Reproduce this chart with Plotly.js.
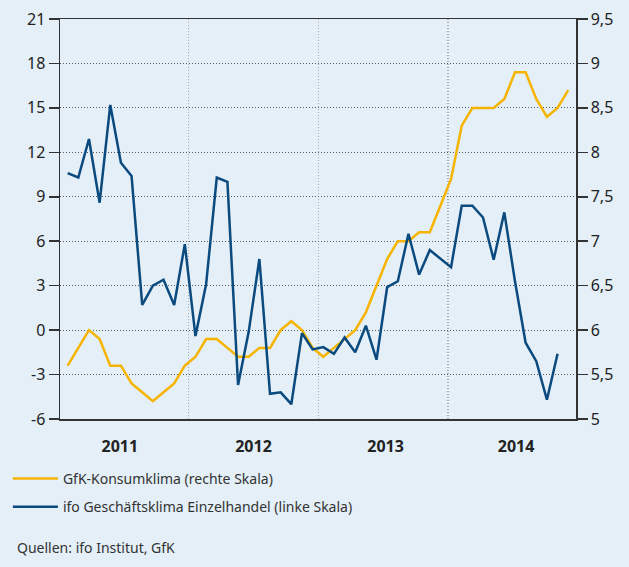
<!DOCTYPE html>
<html>
<head>
<meta charset="utf-8">
<script src="https://cdn.plot.ly/plotly-3.0.1.min.js"></script>
<style>
html,body{margin:0;padding:0;background:#e4eff7;}
#chart{width:629px;height:567px;}
</style>
</head>
<body>
<div id="chart"></div>
<script>
// Monthly observations, Jan 2011 - Dec 2014
const months = [
  '2011-01','2011-02','2011-03','2011-04','2011-05','2011-06','2011-07','2011-08','2011-09','2011-10','2011-11','2011-12',
  '2012-01','2012-02','2012-03','2012-04','2012-05','2012-06','2012-07','2012-08','2012-09','2012-10','2012-11','2012-12',
  '2013-01','2013-02','2013-03','2013-04','2013-05','2013-06','2013-07','2013-08','2013-09','2013-10','2013-11','2013-12',
  '2014-01','2014-02','2014-03','2014-04','2014-05','2014-06','2014-07','2014-08','2014-09','2014-10','2014-11','2014-12'
];

// GfK-Konsumklima (right scale)
const gfk = [
  5.6, 5.8, 6.0, 5.9, 5.6, 5.6, 5.4, 5.3, 5.2, 5.3, 5.4, 5.6,
  5.7, 5.9, 5.9, 5.8, 5.7, 5.7, 5.8, 5.8, 6.0, 6.1, 6.0, 5.8,
  5.7, 5.8, 5.9, 6.0, 6.2, 6.5, 6.8, 7.0, 7.0, 7.1, 7.1, 7.4,
  7.7, 8.3, 8.5, 8.5, 8.5, 8.6, 8.9, 8.9, 8.6, 8.4, 8.5, 8.7
];

// ifo Geschäftsklima Einzelhandel (left scale), Jan 2011 - Nov 2014
const ifo = [
  10.6, 10.3, 12.9, 8.6, 15.2, 11.3, 10.4, 1.7, 3.0, 3.4, 1.7, 5.8,
  -0.4, 3.1, 10.3, 10.0, -3.7, -0.1, 4.8, -4.3, -4.2, -5.0, -0.2, -1.3,
  -1.15, -1.6, -0.5, -1.5, 0.3, -2.0, 2.9, 3.3, 6.5, 3.75, 5.4, 4.85,
  4.25, 8.4, 8.4, 7.6, 4.75, 7.95, 3.3, -0.85, -2.1, -4.7, -1.6
];

const yearLabels = ['2011', '2012', '2013', '2014'];
const yearLabelPos = [4.9, 17.45, 29.85, 42.1];
const yearBoundaries = [11.35, 23.53, 35.71];

const leftTicks = [-6, -3, 0, 3, 6, 9, 12, 15, 18, 21];
const leftTickText = ['-6', '-3', '0', '3', '6', '9', '12', '15', '18', '21'];
const rightTicks = [5, 5.5, 6, 6.5, 7, 7.5, 8, 8.5, 9, 9.5];
const rightTickText = ['5', '5,5', '6', '6,5', '7', '7,5', '8', '8,5', '9', '9,5'];

const seriesNames = ['GfK-Konsumklima (rechte Skala)', 'ifo Geschäftsklima Einzelhandel (linke Skala)'];

const idx = months.map((m, i) => i);
const ifoIdx = ifo.map((v, i) => idx[i]);

const FONT = '"Noto Sans", "Liberation Sans", sans-serif';
const AX = '#333333';

const traces = [
  {
    x: idx, y: gfk, type: 'scatter', mode: 'lines', name: seriesNames[0],
    yaxis: 'y', legendgroup: 'a',
    line: {color: '#f6b400', width: 2.5}
  },
  {
    x: ifoIdx, y: ifo, type: 'scatter', mode: 'lines', name: seriesNames[1],
    yaxis: 'y2', legendgroup: 'b',
    line: {color: '#0a4a7e', width: 2.5}
  }
];

const layout = {
  width: 629, height: 567,
  paper_bgcolor: '#e4eff7', plot_bgcolor: '#e4eff7',
  margin: {l: 60, r: 53, t: 19, b: 148, autoexpand: false},
  font: {family: FONT, color: '#222222', size: 14},
  showlegend: true,
  xaxis: {
    range: [-0.72, 47.73],
    tickmode: 'array', tickvals: yearLabelPos, ticktext: yearLabels,
    showgrid: false, zeroline: false,
    ticks: '', ticklabelstandoff: 12,
    tickfont: {family: FONT, size: 16, color: '#222222', weight: 'bold'},
    showline: true, mirror: true, linecolor: AX, linewidth: 1.5,
    minor: {tickmode: 'array', tickvals: yearBoundaries, showgrid: true, gridcolor: '#a3acb3', griddash: '1px,2px', gridwidth: 1.2, ticks: ''}
  },
  yaxis: {
    range: [5, 9.5], side: 'right',
    tickmode: 'array', tickvals: rightTicks, ticktext: rightTickText,
    showgrid: true, gridcolor: '#555b60', griddash: '1px,2px', gridwidth: 1,
    zeroline: false,
    ticks: 'outside', ticklen: 10, tickwidth: 1.5, tickcolor: AX,
    showline: true, linecolor: AX, linewidth: 1.5,
    tickfont: {family: FONT, size: 16, color: '#222222'}
  },
  yaxis2: {
    range: [-6, 21], side: 'left', overlaying: 'y',
    tickmode: 'array', tickvals: leftTicks, ticktext: leftTickText,
    showgrid: false, zeroline: false,
    ticks: 'outside', ticklen: 10, tickwidth: 1.5, tickcolor: AX,
    showline: true, linecolor: AX, linewidth: 1.5,
    tickfont: {family: FONT, size: 16, color: '#222222'}
  },
  legend: {
    x: -0.101, xanchor: 'left', y: -0.11, yanchor: 'top',
    orientation: 'v', traceorder: 'grouped', tracegroupgap: 7,
    itemwidth: 45, bgcolor: 'rgba(0,0,0,0)',
    font: {family: FONT, size: 14, color: '#333333'}
  },
  annotations: [{
    text: 'Quellen: ifo Institut, GfK', xref: 'paper', yref: 'paper',
    x: -0.0872, y: -0.321, xanchor: 'left', yanchor: 'middle',
    showarrow: false, font: {family: FONT, size: 14, color: '#333333'}
  }]
};

Plotly.newPlot('chart', traces, layout, {displayModeBar: false, staticPlot: true});
</script>
</body>
</html>
